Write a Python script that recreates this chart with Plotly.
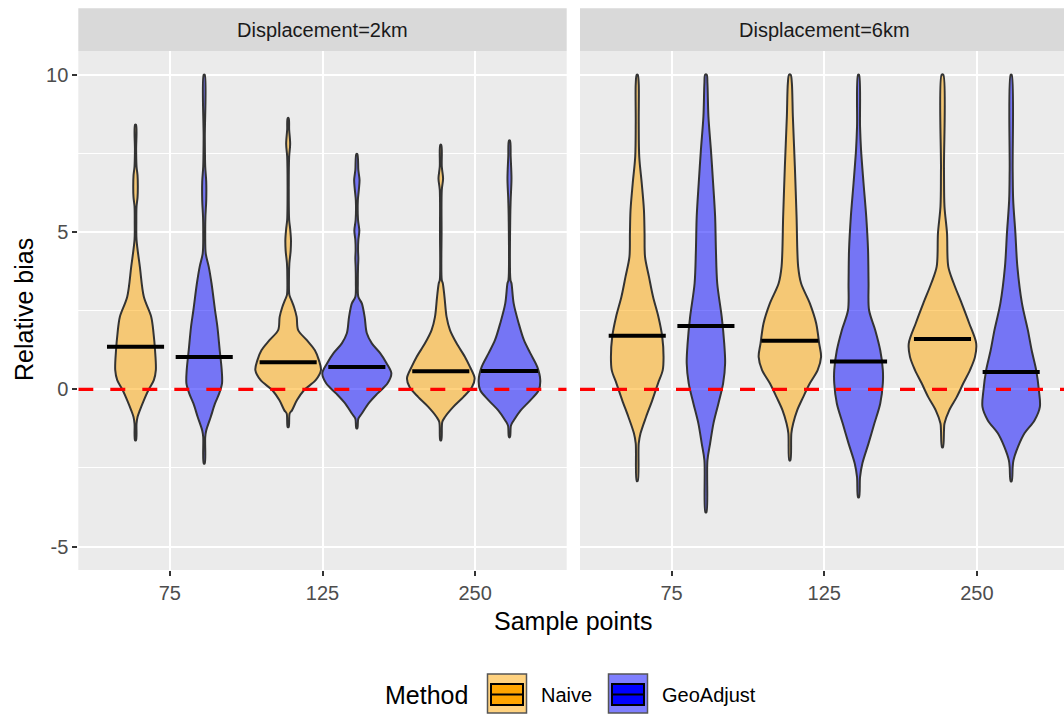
import plotly.graph_objects as go

# ---------------- data ----------------
panels = ["Displacement=2km", "Displacement=6km"]
methods = ["Naive", "GeoAdjust"]
sample_points = ["75", "125", "250"]

# medians per panel / method, in the order of sample_points
median_2km_naive = [1.35, 0.86, 0.57]
median_2km_geo = [1.03, 0.71, 0.58]
median_6km_naive = [1.70, 1.54, 1.60]
median_6km_geo = [2.01, 0.88, 0.55]

# violin outlines: (relative bias, density half-width) pairs, bottom to top
v2_naive_75 = [(-1.62, 0.5), (-1.09, 1), (-0.88, 2), (-0.67, 4.3), (-0.35, 8.3), (-0.03, 12.8),
               (0.29, 18.3), (0.61, 20.3), (1.24, 19.5), (1.78, 18), (2.30, 15.7), (2.94, 8.3),
               (3.9, 4.3), (4.75, 1), (5.3, 0.8), (5.81, 1), (6.1, 2), (6.44, 2.3), (6.8, 2),
               (7.08, 1), (7.6, 0.6), (8.41, 0.5)]
v2_geo_75 = [(-2.36, 0.5), (-1.52, 1), (-1.31, 2), (-0.88, 6.5), (-0.45, 10.8), (-0.13, 15),
             (0.19, 17.8), (0.61, 17.5), (1.24, 15.5), (1.98, 13.2), (2.52, 10.8), (3.37, 7.3),
             (3.9, 4.5), (4.32, 1.5), (5.0, 1), (5.49, 1.2), (6.0, 2), (6.6, 2), (7.08, 1),
             (8.0, 0.6), (10.0, 0.5)]
v2_naive_125 = [(-1.2, 0.5), (-0.77, 1.5), (-0.67, 3.8), (-0.35, 8.7), (-0.03, 15.8), (0.29, 27.5),
                (0.61, 32.8), (0.92, 30.8), (1.24, 26.7), (1.56, 18.7), (1.88, 10), (2.30, 8.5),
                (2.6, 6), (2.85, 3), (3.0, 1.2), (3.5, 0.8), (4.0, 1.2), (4.4, 2.5), (4.75, 2.8),
                (5.1, 2), (5.38, 1), (6.5, 0.6), (7.4, 1), (7.8, 2), (8.25, 1), (8.62, 0.5)]
v2_geo_125 = [(-1.24, 0.5), (-0.93, 1.5), (-0.77, 5), (-0.45, 11.7), (-0.13, 20.8), (0.19, 30.7),
              (0.51, 34.5), (0.83, 29.7), (1.15, 23.3), (1.46, 15), (1.78, 10), (2.30, 7.8),
              (2.73, 5), (2.94, 1.5), (3.4, 1), (3.9, 1.2), (4.15, 1.5), (4.43, 1.2), (4.75, 1.5),
              (5.05, 2.5), (5.38, 1.2), (6.0, 1), (6.34, 2), (6.65, 2.7), (6.97, 1.5), (7.48, 0.5)]
v2_naive_250 = [(-1.62, 0.5), (-1.04, 1.5), (-0.88, 4.2), (-0.56, 12.5), (-0.25, 22.5), (0.07, 31.2),
                (0.35, 33.8), (0.71, 29.2), (1.03, 24.2), (1.46, 15.8), (1.88, 9.2), (2.30, 5.8),
                (2.94, 3.7), (3.37, 2), (3.47, 1), (5.0, 0.8), (6.34, 1), (6.7, 2.3), (7.08, 1),
                (7.77, 0.5)]
v2_geo_250 = [(-1.52, 0.5), (-1.15, 1.5), (-0.99, 4.2), (-0.67, 11.2), (-0.35, 20.8), (-0.03, 29.2),
              (0.29, 30.8), (0.71, 27.8), (1.15, 20.8), (1.56, 14.5), (2.10, 9.2), (2.73, 4.2),
              (3.37, 2), (3.47, 1), (5.5, 0.8), (6.02, 1.2), (6.7, 2), (7.40, 1.2), (7.91, 0.5)]

v6_naive_75 = [(-2.92, 0.5), (-1.72, 1.5), (-1.40, 3.3), (-0.88, 8.8), (-0.35, 15), (0.19, 20.8),
               (0.61, 25.5), (1.03, 26.3), (1.67, 25), (2.30, 21.2), (2.94, 15.8), (3.58, 11.7),
               (4.21, 7.8), (4.97, 7.3), (5.70, 6.7), (6.55, 4.5), (7.40, 2), (8.5, 1.5),
               (9.7, 1.5), (10.0, 0.5)]
v6_geo_75 = [(-3.91, 0.5), (-2.26, 1.5), (-1.72, 4.2), (-1.09, 7.5), (-0.45, 12.5), (0.19, 17.2),
             (0.83, 19.2), (1.46, 18.3), (2.30, 15.8), (3.37, 11.3), (4.43, 10), (5.49, 9.2),
             (6.55, 7.2), (7.61, 5), (8.67, 2.5), (9.73, 1.5), (10.0, 0.8)]
v6_naive_125 = [(-2.26, 0.5), (-1.40, 1.5), (-1.09, 3.3), (-0.67, 7.3), (-0.25, 13.3), (0.19, 20),
                (0.61, 27.8), (1.03, 31.2), (1.46, 29.3), (2.10, 26.3), (2.73, 20), (3.37, 11.2),
                (3.90, 8.3), (5.49, 6.7), (7.08, 5), (8.67, 3), (9.73, 2), (10.0, 0.8)]
v6_geo_125 = [(-3.43, 0.5), (-2.79, 1.5), (-2.36, 3.8), (-1.72, 10), (-1.09, 15.8), (-0.45, 21.7),
              (0.19, 24.3), (0.61, 24.3), (1.24, 21.7), (1.88, 16.7), (2.52, 10.5), (3.37, 10),
              (4.43, 9.5), (5.49, 7.7), (6.55, 5), (7.61, 2.5), (8.35, 1.5), (10.0, 0.5)]
v6_naive_250 = [(-1.84, 0.5), (-1.31, 1.5), (-1.09, 2), (-0.67, 6.7), (-0.25, 14.2), (0.19, 20.8),
                (0.61, 27.5), (1.03, 32.5), (1.46, 33.7), (2.10, 26.7), (2.73, 19.2), (3.37, 11.2),
                (3.90, 5.8), (4.97, 4.5), (5.81, 2), (7.0, 1.5), (10.0, 0.8)]
v6_geo_250 = [(-2.92, 0.5), (-2.47, 1.5), (-2.26, 2.3), (-1.84, 6.7), (-1.40, 13.3), (-0.99, 23.3),
              (-0.56, 28.7), (-0.03, 27.7), (0.61, 25), (1.24, 20.5), (1.88, 16.7), (2.73, 10.8),
              (3.90, 6.2), (4.97, 4.2), (6.02, 2), (6.97, 1.5), (10.0, 0.5)]

violins_2km_naive = [v2_naive_75, v2_naive_125, v2_naive_250]
violins_2km_geo = [v2_geo_75, v2_geo_125, v2_geo_250]
violins_6km_naive = [v6_naive_75, v6_naive_125, v6_naive_250]
violins_6km_geo = [v6_geo_75, v6_geo_125, v6_geo_250]

# ---------------- styling / geometry ----------------
W, H = 1064, 715
FILL = {"Naive": "rgba(255,165,0,0.5)", "GeoAdjust": "rgba(0,0,255,0.5)"}
SOLID = {"Naive": "#FFA500", "GeoAdjust": "#0000FF"}
DODGE = {"Naive": -0.225, "GeoAdjust": 0.225}
DENS_SCALE = 1 / 152.6      # density half-width -> category units
MED_HALF = 0.187
FONT = "Liberation Sans, Arial, sans-serif"


def px(x):
    return x / W


def py(y):
    return 1 - y / H


fig = go.Figure()

panel_specs = [
    ("x", "y", violins_2km_naive, violins_2km_geo, median_2km_naive, median_2km_geo),
    ("x2", "y2", violins_6km_naive, violins_6km_geo, median_6km_naive, median_6km_geo),
]

for xa, ya, vn, vg, mn, mg in panel_specs:
    for method, vlist in (("Naive", vn), ("GeoAdjust", vg)):
        for i, prof in enumerate(vlist):
            c = i + 1 + DODGE[method]
            ys = [p[0] for p in prof]
            ws = [p[1] * DENS_SCALE for p in prof]
            xs = [c + w for w in ws] + [c - w for w in reversed(ws)]
            yy = ys + list(reversed(ys))
            xs.append(xs[0])
            yy.append(yy[0])
            fig.add_trace(go.Scatter(
                x=xs, y=yy, xaxis=xa, yaxis=ya, mode="lines",
                line=dict(color="#333333", width=2, shape="spline", smoothing=0.9),
                fill="toself", fillcolor=FILL[method], showlegend=False, hoverinfo="skip"))
    # zero reference line
    fig.add_trace(go.Scatter(
        x=[0.4, 3.6], y=[0, 0], xaxis=xa, yaxis=ya, mode="lines",
        line=dict(color="#FF0000", width=3.2, dash="15px,17px"),
        showlegend=False, hoverinfo="skip"))
    # medians
    for method, meds in (("Naive", mn), ("GeoAdjust", mg)):
        for i, m in enumerate(meds):
            c = i + 1 + DODGE[method]
            fig.add_trace(go.Scatter(
                x=[c - MED_HALF, c + MED_HALF], y=[m, m], xaxis=xa, yaxis=ya, mode="lines",
                line=dict(color="#000000", width=4), showlegend=False, hoverinfo="skip"))

# axes
unit = (566.7 - 78.3) / 3.2
x2_right = 0.4 + (W - 580) / unit
common_x = dict(
    tickmode="array", tickvals=[1, 2, 3], ticktext=sample_points,
    showgrid=True, gridcolor="white", gridwidth=2, zeroline=False,
    ticks="outside", ticklen=5, tickwidth=1.5, tickcolor="#333333",
    tickfont=dict(family=FONT, size=20, color="#4D4D4D"),
    showline=False, fixedrange=True,
)
yrange = [-5.744, 10.753]
common_y = dict(
    range=yrange, tickmode="array", tickvals=[-5, 0, 5, 10],
    showgrid=True, gridcolor="white", gridwidth=2, zeroline=False,
    minor=dict(tickmode="array", tickvals=[-2.5, 2.5, 7.5], showgrid=True,
               gridcolor="white", gridwidth=1, ticks=""),
    showline=False, fixedrange=True,
    domain=[py(570), py(51)],
)
fig.update_layout(
    xaxis=dict(common_x, domain=[px(78.3), px(566.7)], range=[0.4, 3.6], anchor="y"),
    xaxis2=dict(common_x, domain=[px(580), 1.0], range=[0.4, x2_right], anchor="y2"),
    yaxis=dict(common_y, anchor="x", ticks="outside", ticklen=5, tickwidth=1.5,
               tickcolor="#333333", tickfont=dict(family=FONT, size=20, color="#4D4D4D"),
               ticktext=["-5", "0", "5", "10"]),
    yaxis2=dict(common_y, anchor="x2", showticklabels=False, ticks="", matches="y"),
    plot_bgcolor="#EBEBEB", paper_bgcolor="white",
    width=W, height=H, margin=dict(l=0, r=0, t=0, b=0),
    showlegend=False,
)

shapes = []
annotations = []
# facet strips
for (x0, x1, xc), label in zip([(78.3, 566.7, 322.5), (580, W, 824)], panels):
    shapes.append(dict(type="rect", xref="paper", yref="paper", x0=px(x0), x1=px(x1),
                       y0=py(51), y1=py(8.3), fillcolor="#D9D9D9", line=dict(width=0), layer="below"))
    annotations.append(dict(text=label, xref="paper", yref="paper", x=px(xc),
                            y=py(30), showarrow=False, xanchor="center", yanchor="middle",
                            font=dict(family=FONT, size=20, color="#1A1A1A")))

# axis titles
annotations.append(dict(text="Sample points", xref="paper", yref="paper", x=px(573), y=py(621),
                        showarrow=False, xanchor="center", yanchor="middle",
                        font=dict(family=FONT, size=25, color="black")))
annotations.append(dict(text="Relative bias", xref="paper", yref="paper", x=px(24), y=py(310),
                        showarrow=False, textangle=-90, xanchor="center", yanchor="middle",
                        font=dict(family=FONT, size=25, color="black")))

# legend (drawn manually, ggplot-style)
annotations.append(dict(text="Method", xref="paper", yref="paper", x=px(383), y=py(695),
                        showarrow=False, xanchor="left", yanchor="middle",
                        font=dict(family=FONT, size=25, color="black")))
legend_items = [("Naive", 487.5, 539), ("GeoAdjust", 608.5, 660)]
for method, kx, tx in legend_items:
    shapes.append(dict(type="rect", xref="paper", yref="paper", x0=px(kx), x1=px(kx + 39),
                       y0=py(713), y1=py(674), fillcolor=FILL[method],
                       line=dict(color="#555555", width=1.5)))
    shapes.append(dict(type="rect", xref="paper", yref="paper", x0=px(kx + 3.5), x1=px(kx + 35.5),
                       y0=py(705), y1=py(684), fillcolor=SOLID[method],
                       line=dict(color="black", width=2)))
    shapes.append(dict(type="line", xref="paper", yref="paper", x0=px(kx + 3.5), x1=px(kx + 35.5),
                       y0=py(694.5), y1=py(694.5), line=dict(color="black", width=2)))
    annotations.append(dict(text=method, xref="paper", yref="paper", x=px(tx), y=py(695),
                            showarrow=False, xanchor="left", yanchor="middle",
                            font=dict(family=FONT, size=20, color="black")))

fig.update_layout(shapes=shapes, annotations=annotations)
fig.write_html("out.html", config={"displayModeBar": False},
               post_script="document.body.style.margin='0';")
